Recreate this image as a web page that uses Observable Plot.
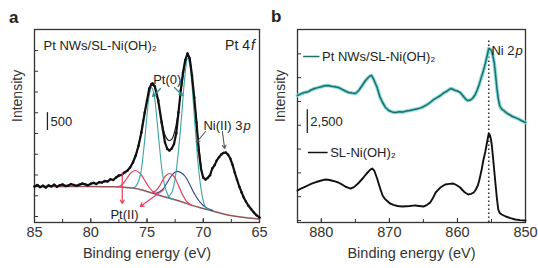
<!DOCTYPE html>
<html><head><meta charset="utf-8">
<script src="https://cdn.jsdelivr.net/npm/d3@7"></script>
<script src="https://cdn.jsdelivr.net/npm/@observablehq/plot@0.6"></script>
<style>
body{margin:0;background:#fff;}
#wrap{position:relative;width:538px;height:268px;overflow:hidden;font-family:"Liberation Sans",Arial,sans-serif;color:#222;}
#pa,#pb{position:absolute;top:0;}
#pa{left:0}
#pb{left:268px}
.plab{position:absolute;font-weight:bold;font-size:17px;line-height:17px;}
</style></head><body>
<div id="wrap"><div id="pa"></div><div id="pb"></div>
<div class="plab" style="left:9px;top:9px">a</div><div class="plab" style="left:271px;top:8px">b</div></div>
<script>
// ---------- Panel a: Pt 4f (binding energy eV, intensity counts) ----------
const ptMeasured = [
 [85.0,1008],[84.75,1050],[84.5,990],[84.25,1030],[84.0,980],[83.75,1040],[83.5,1010],[83.25,1060],
 [83.0,1000],[82.75,1045],[82.5,1064],[82.25,1020],[82.0,1036],[81.75,1075],[81.5,1050],[81.25,1030],
 [81.0,1060],[80.75,1090],[80.5,1070],[80.25,1040],[80.0,1085],[79.75,1110],[79.5,1080],[79.25,1130],
 [79.0,1120],[78.75,1160],[78.5,1150],[78.25,1210],[78.0,1190],[77.75,1260],[77.5,1316],[77.25,1330],
 [77.0,1400],[76.75,1450],[76.5,1540],[76.25,1680],[76.0,1876],[75.75,2150],[75.5,2520],[75.2,3080],
 [75.0,3416],[74.8,3752],[74.6,3880],[74.5,3892],[74.3,3808],[74.0,3416],[73.7,2800],[73.4,2240],
 [73.2,2060],[73.0,2016],[72.8,2072],[72.6,2200],[72.4,2500],[72.2,3080],[72.0,3696],[71.8,4200],
 [71.6,4550],[71.4,4732],[71.2,4592],[71.0,4116],[70.8,3500],[70.6,2800],[70.4,2016],[70.2,1500],
 [70.0,1260],[69.8,1204],[69.6,1250],[69.4,1320],[69.2,1512],[69.0,1600],[68.8,1736],[68.6,1830],
 [68.4,1904],[68.2,1950],[68.0,1960],[67.8,1900],[67.6,1792],[67.4,1620],[67.2,1400],[67.0,1200],
 [66.8,1008],[66.6,850],[66.4,700],[66.2,580],[66.0,476],[65.75,380],[65.5,280],[65.25,200],[65.0,140]
];
const ptEnvelope = [
 [78,1200],[77.5,1300],[77,1390],[76.5,1560],[76,1900],[75.6,2400],[75.3,2950],[75,3380],[74.8,3700],
 [74.6,3840],[74.4,3830],[74.2,3650],[74,3350],[73.7,2860],[73.4,2450],[73.1,2300],[72.8,2330],
 [72.5,2600],[72.2,3150],[71.9,3850],[71.6,4480],[71.4,4680],[71.2,4560],[71.0,4050],[70.7,3150],
 [70.4,2150],[70.1,1350]
];
const ptBackground = [
 [85,1010],[80,1010],[78,1000],[77,985],[76,952],[75,870],[74,770],[73,680],[72,590],[71,480],
 [70,392],[69,308],[68,224],[67,168],[66,126],[65,98]
];
const pt0Peak5 = [
 [76.4,955],[76.0,1010],[75.6,1316],[75.3,2016],[75.0,2996],[74.8,3556],[74.6,3780],[74.4,3640],
 [74.2,3136],[73.9,2156],[73.6,1316],[73.3,896],[73.0,700],[72.6,650]
];
const pt0Peak7 = [
 [73.2,700],[72.8,840],[72.5,1232],[72.2,2016],[71.9,3080],[71.6,4200],[71.4,4592],[71.2,4424],
 [71.0,3836],[70.7,2576],[70.4,1456],[70.1,756],[69.8,430],[69.4,336]
];
const pt2Peak5 = [
 [77.6,995],[77.2,1064],[76.8,1232],[76.4,1400],[76.0,1456],[75.6,1372],[75.2,1176],[74.8,980],
 [74.4,840],[74.0,775]
];
const pt2Peak7 = [
 [74.6,835],[74.2,896],[73.8,1064],[73.4,1288],[73.0,1372],[72.6,1288],[72.2,1036],[71.8,756],
 [71.4,560],[71.0,480]
];
const niPeak = [
 [74.4,812],[74.0,840],[73.6,924],[73.2,1120],[72.8,1316],[72.4,1428],[72.0,1400],[71.6,1288],
 [71.2,1064],[70.8,812],[70.4,616],[70.0,476],[69.6,392],[69.2,340]
];
const aXLabels = [85, 80, 75, 70, 65];
const aXMinor = [85, 82.5, 80, 77.5, 75, 72.5, 70, 67.5, 65];
const aYTicks = [168, 749, 1330, 1911, 2492, 3073, 3654, 4235, 4816];
const aScaleBar = {e: 83.85, v0: 2576, size: 500, label: "500"};

// ---------- Panel b: Ni 2p ----------
const niPtNWs = [
 [883.5,13125],[883,13300],[882.5,13440],[882,13500],[881.5,13700],[881,13860],[880.5,13950],[880,14050],
 [879.5,14150],[879,14175],[878.5,14100],[878,14050],[877.5,13965],[877,13800],[876.5,13600],[876,13440],
 [875.5,13380],[875,13335],[874.5,13650],[874,14175],[873.5,14700],[873.1,15015],[872.8,15200],[872.6,15225],
 [872.3,14800],[871.8,13965],[871.4,13000],[871,12390],[870.6,11900],[870.1,11550],[869.6,11400],[869.1,11340],
 [868.5,11420],[868,11380],[867.5,11500],[867,11550],[866.5,11620],[866,11700],[865.5,11800],[865,11950],
 [864.5,12150],[864,12390],[863.5,12700],[863,12900],[862.5,13125],[862,13400],[861.5,13600],[861,13860],
 [860.6,13750],[860.3,13650],[860,13600],[859.6,13440],[859.2,13100],[858.8,12750],[858.5,12600],[858.2,12620],
 [857.8,12810],[857.4,13200],[857.1,13700],[856.8,14300],[856.5,15000],[856.2,15700],[855.9,16500],[855.6,17400],
 [855.4,18060],[855.2,18000],[855,17850],[854.8,17300],[854.6,16590],[854.4,15300],[854.2,13860],[854,12800],
 [853.8,12075],[853.5,11700],[853.2,11550],[852.8,11300],[852.4,11130],[852,10950],[851.5,10800],[851,10650],
 [850.5,10450],[850,10290]
];
const niSL = [
 [883.5,3150],[883,3350],[882.5,3500],[882,3675],[881.5,3850],[881,3980],[880.5,4095],[880,4200],
 [879.5,4300],[879,4280],[878.5,4200],[878,4100],[877.5,3990],[877,3800],[876.5,3570],[876,3420],
 [875.7,3360],[875.2,3500],[874.6,3885],[874.2,4200],[873.8,4515],[873.5,4800],[873.2,5040],[872.8,5350],
 [872.5,5460],[872.2,5200],[871.8,4410],[871.5,3700],[871.3,3255],[871,2625],[870.7,2300],[870.4,2100],
 [869.9,1785],[869.4,1650],[868.8,1520],[868.1,1470],[867.5,1500],[867,1520],[866.5,1560],[866.2,1575],
 [865.6,1520],[865,1470],[864.5,1620],[864,1890],[863.6,2350],[863.2,2940],[862.8,3250],[862.5,3465],
 [862.1,3650],[861.8,3780],[861.2,3850],[860.6,3885],[860.1,3700],[859.6,3465],[859.2,3150],[858.9,2940],
 [858.4,2730],[858,2800],[857.6,2940],[857.3,3250],[857,3675],[856.8,4200],[856.6,4830],[856.4,5500],
 [856.2,6300],[855.9,7245],[855.6,8400],[855.4,9135],[855.25,9000],[855.1,8610],[854.95,7900],[854.8,6825],
 [854.6,5300],[854.4,3780],[854.2,2300],[854,1155],[853.8,800],[853.5,630],[852.9,420],[852.2,250],
 [851.5,105],[850.8,40],[850,0]
];
const bXLabels = [880, 870, 860, 850];
const bXMinor = [880, 875, 870, 865, 860, 855, 850];
const bYTicks = [0, 2500, 5000, 7500, 10000, 12500, 15000, 17500];
const bScaleBar = {e: 882.06, v0: 9135, size: 2500, label: "2,500"};
const ni2pLine = {e: 855.4, top: 18900};

const FONT = '"Liberation Sans", Arial, Helvetica, sans-serif';
const pts = arr => arr.map(([e, v]) => ({e, v}));
const TXT = "#222";

function axes(xLabels, xMinor, yTicks) {
  return [
    Plot.axisX({ticks: xMinor, tickSize: -3, tickFormat: () => "", label: null, stroke: "#333"}),
    Plot.axisX({ticks: xLabels, tickSize: -4, tickPadding: 8, label: null, stroke: "#333", fontSize: 14.5, fill: "#333"}),
    Plot.axisY({ticks: yTicks, tickSize: -4, tickFormat: () => "", label: null, stroke: "#333"}),
    Plot.frame({stroke: "#333", strokeWidth: 1.3}),
    Plot.text(["Binding energy (eV)"], {frameAnchor: "bottom", dy: 35, fontSize: 14.5, fill: "#333"}),
    Plot.text(["Intensity"], {frameAnchor: "left", rotate: -90, dx: -17, dy: -4, fontSize: 14, fill: "#333"})
  ];
}

const plotA = Plot.plot({
  width: 268, height: 268,
  marginLeft: 34, marginRight: 9, marginTop: 29, marginBottom: 46,
  x: {domain: [85, 65]}, y: {domain: [0, 5404]},
  style: {fontFamily: FONT, fontSize: "13px", background: "transparent", overflow: "visible"},
  marks: [
    ...axes(aXLabels, aXMinor, aYTicks),
    Plot.line(pts(ptBackground), {x: "e", y: "v", stroke: "#8e5458", strokeWidth: 1.5, curve: "catmull-rom"}),
    Plot.line(pts(niPeak), {x: "e", y: "v", stroke: "#2d3d8e", strokeWidth: 1.1, curve: "catmull-rom"}),
    Plot.line(pts(pt2Peak5), {x: "e", y: "v", stroke: "#e5405f", strokeWidth: 1.2, curve: "catmull-rom"}),
    Plot.line(pts(pt2Peak7), {x: "e", y: "v", stroke: "#e5405f", strokeWidth: 1.2, curve: "catmull-rom"}),
    Plot.line(pts(pt0Peak5), {x: "e", y: "v", stroke: "#3ba5a3", strokeWidth: 1.1, curve: "catmull-rom"}),
    Plot.line(pts(pt0Peak7), {x: "e", y: "v", stroke: "#3ba5a3", strokeWidth: 1.1, curve: "catmull-rom"}),
    Plot.line(pts(ptEnvelope), {x: "e", y: "v", stroke: "#111", strokeWidth: 1.1, curve: "catmull-rom"}),
    Plot.line(pts(ptMeasured), {x: "e", y: "v", stroke: "#111", strokeWidth: 2.2}),
    Plot.dot(pts(ptMeasured), {x: "e", y: "v", r: 1.2, fill: "#111"}),
    // scale bar
    Plot.ruleX([aScaleBar], {x: "e", y1: "v0", y2: d => d.v0 + d.size, stroke: "#222", strokeWidth: 1.3}),
    Plot.text([aScaleBar], {x: "e", y: d => d.v0 + d.size / 2, text: "label", dx: 3, textAnchor: "start", fill: TXT}),
    // annotations
    Plot.text([{e: 84.2, v: 4956}], {x: "e", y: "v", text: () => "Pt NWs/SL-Ni(OH)₂", textAnchor: "start", fill: TXT}),
    Plot.text([{e: 65.4, v: 4956}], {x: "e", y: "v", text: () => "Pt 4", textAnchor: "end", dx: -5, fontSize: 14, fill: TXT}),
    Plot.text([{e: 65.4, v: 4956}], {x: "e", y: "v", text: () => "f", textAnchor: "end", fontSize: 14, fontStyle: "italic", fill: TXT}),
    Plot.text([{e: 73.2, v: 4004}], {x: "e", y: "v", text: () => "Pt(0)", fill: TXT}),
    Plot.arrow([{x1: 73.8, y1: 3752, x2: 74.5, y2: 3528}, {x1: 72.56, y1: 3780, x2: 71.84, y2: 3556}],
      {x1: "x1", y1: "y1", x2: "x2", y2: "y2", stroke: "#2f8f8c", strokeWidth: 1.2, headLength: 5}),
    Plot.text([{e: 69.98, v: 2716}], {x: "e", y: "v", text: () => "Ni(II) 3", textAnchor: "start", fill: TXT}),
    Plot.text([{e: 69.98, v: 2716}], {x: "e", y: "v", text: () => "p", textAnchor: "start", dx: 40, fontStyle: "italic", fill: TXT}),
    Plot.arrow([{x1: 69.8, y1: 2548, x2: 70.6, y2: 2240}, {x1: 68.3, y1: 2548, x2: 68.1, y2: 2072}],
      {x1: "x1", y1: "y1", x2: "x2", y2: "y2", stroke: "#555", strokeWidth: 1.1, headLength: 5}),
    Plot.text([{e: 77.0, v: 224}], {x: "e", y: "v", text: () => "Pt(II)", fill: TXT}),
    Plot.arrow([{x1: 77.2, y1: 1400, x2: 77.2, y2: 532}, {x1: 73.5, y1: 924, x2: 75.6, y2: 448}],
      {x1: "x1", y1: "y1", x2: "x2", y2: "y2", stroke: "#e5405f", strokeWidth: 1.2, headLength: 5})
  ]
});
document.getElementById("pa").append(plotA);

const plotB = Plot.plot({
  width: 270, height: 268,
  marginLeft: 29, marginRight: 13, marginTop: 29, marginBottom: 46,
  x: {domain: [883.5, 850]}, y: {domain: [-210, 20055]},
  style: {fontFamily: FONT, fontSize: "13px", background: "transparent", overflow: "visible"},
  marks: [
    ...axes(bXLabels, bXMinor, bYTicks),
    Plot.ruleX([ni2pLine], {x: "e", y1: -210, y2: "top", stroke: "#333", strokeWidth: 1.6, strokeDasharray: "1.5,2.5"}),
    Plot.line(pts(niPtNWs), {x: "e", y: "v", stroke: "#86dcdc", strokeWidth: 3.6}),
    Plot.line(pts(niPtNWs), {x: "e", y: "v", stroke: "#1f6e69", strokeWidth: 1.5}),
    Plot.line(pts(niSL), {x: "e", y: "v", stroke: "#111", strokeWidth: 1.9}),
    // legends
    Plot.ruleY([{v: 17220, x1: 882.6, x2: 880.2}], {y: "v", x1: "x1", x2: "x2", stroke: "#1f6e69", strokeWidth: 1.5}),
    Plot.text([{e: 879.9, v: 17220}], {x: "e", y: "v", text: () => "Pt NWs/SL-Ni(OH)₂", textAnchor: "start", fill: TXT}),
    Plot.ruleY([{v: 7140, x1: 881.9, x2: 879.0}], {y: "v", x1: "x1", x2: "x2", stroke: "#111", strokeWidth: 1.5}),
    Plot.text([{e: 878.7, v: 7140}], {x: "e", y: "v", text: () => "SL-Ni(OH)₂", textAnchor: "start", fill: TXT}),
    // scale bar
    Plot.ruleX([bScaleBar], {x: "e", y1: "v0", y2: d => d.v0 + d.size, stroke: "#222", strokeWidth: 1.3}),
    Plot.text([bScaleBar], {x: "e", y: d => d.v0 + d.size / 2, text: "label", dx: 3, textAnchor: "start", fill: TXT}),
    // Ni 2p label
    Plot.text([{e: 855.0, v: 17850}], {x: "e", y: "v", text: () => "Ni 2", textAnchor: "start", fill: TXT}),
    Plot.text([{e: 855.0, v: 17850}], {x: "e", y: "v", text: () => "p", textAnchor: "start", dx: 24, fontStyle: "italic", fill: TXT})
  ]
});
document.getElementById("pb").append(plotB);
</script>
</body></html>
